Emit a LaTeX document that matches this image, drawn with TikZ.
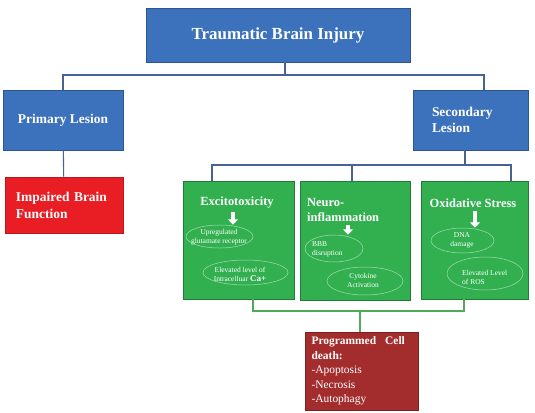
\documentclass[tikz,border=0pt]{standalone}
\usepackage{fontspec}
\setmainfont{Liberation Serif}
\usepackage{tikz}
\usetikzlibrary{shapes.geometric}
\usetikzlibrary{arrows.meta}

\definecolor{tbiblue}{RGB}{60,114,188}
\definecolor{lesred}{RGB}{232,30,36}
\definecolor{stressgreen}{RGB}{50,176,80}
\definecolor{deathred}{RGB}{163,45,45}
\definecolor{linkblue}{RGB}{70,100,145}
\definecolor{linkgreen}{RGB}{80,170,90}

\begin{document}
\begin{tikzpicture}[
    x=1bp, y=-1bp,
    blue box/.style={rectangle, fill=tbiblue, draw=tbiblue!75!black, line width=0.8bp, text=white, inner sep=0pt},
    red box/.style={rectangle, fill=lesred, draw=lesred!80!black, line width=0.6bp, text=white, inner sep=0pt},
    green box/.style={rectangle, fill=stressgreen, draw=stressgreen!70!black, line width=0.6bp, inner sep=0pt},
    death box/.style={rectangle, fill=deathred, draw=deathred!75!black, line width=0.6bp, text=white, inner sep=0pt},
    title text/.style={text=white, font=\bfseries\fontsize{12.5}{14.5}\selectfont, inner sep=0pt},
    elli/.style={ellipse, draw=white!55!stressgreen, line width=0.5bp, inner sep=0pt},
    elli text/.style={text=white, font=\fontsize{7.5}{9}\selectfont, inner sep=0pt},
    down arrow/.style={draw=white, line width=4bp, -{Triangle[width=10bp,length=5.5bp]}},
    link/.style={draw=linkblue, line width=1.1bp},
    green link/.style={draw=linkgreen, line width=1.1bp},
    ]
  \useasboundingbox (0,0) rectangle (535,412);

  % boxes
  \node[blue box, minimum width=264bp, minimum height=54bp, font=\bfseries\fontsize{17}{20}\selectfont] (tbi) at (278,35) {Traumatic Brain Injury};
  \node[blue box, minimum width=120bp, minimum height=60bp, font=\bfseries\fontsize{13.5}{16}\selectfont] (pl) at (63,120) {Primary Lesion};
  \node[blue box, minimum width=115bp, minimum height=60bp, text width=77bp, align=left, font=\bfseries\fontsize{13.5}{16}\selectfont] (sl) at (470.5,120) {Secondary\\Lesion};
  \node[red box, minimum width=118bp, minimum height=56bp, text width=96bp, align=left, font=\bfseries\fontsize{13.5}{17}\selectfont] (ibf) at (64,205) {Impaired Brain\\Function};

  \node[green box, minimum width=111bp, minimum height=118bp] (exc) at (238.5,240) {};
  \node[green box, minimum width=110bp, minimum height=119bp] (neu) at (355,240.5) {};
  \node[green box, minimum width=107bp, minimum height=118bp] (oxi) at (474.5,240) {};

  \node[death box, minimum width=113bp, minimum height=78bp, text width=101bp, align=left, font=\fontsize{11.5}{14.5}\selectfont] (pcd) at (362,371)
    {\textbf{Programmed\hspace{9bp}Cell}\\\textbf{death:}\\-Apoptosis\\-Necrosis\\-Autophagy};

  % titles inside the green boxes
  \node[title text] (exc title) at (237,203) {Excitotoxicity};
  \node[title text, anchor=west, align=left] (neu title) at (307,210) {Neuro-\\inflammation};
  \node[title text] (oxi title) at (473,203) {Oxidative Stress};

  % ellipses
  \node[elli, minimum width=67bp, minimum height=23bp] (e11) at (219.5,236.5) {};
  \node[elli, minimum width=85bp, minimum height=25bp] (e12) at (245.5,272.5) {};
  \node[elli, minimum width=58bp, minimum height=27bp] (e21) at (334,248.5) {};
  \node[elli, minimum width=76bp, minimum height=28bp] (e22) at (365,281) {};
  \node[elli, minimum width=63bp, minimum height=25bp] (e31) at (462.5,240.5) {};
  \node[elli, minimum width=76bp, minimum height=33bp] (e32) at (485,273.5) {};

  \node[elli text, align=center] (t11) at (219,237.5) {Upregulated\\glutamate receptor};
  \node[elli text, align=center] (t12) at (240,274.5) {Elevated level of\\Intracelluar \textbf{\fontsize{9}{9}\selectfont Ca+}};
  \node[elli text, align=left, anchor=west] (t21) at (312,249) {BBB\\disruption};
  \node[elli text, align=center] (t22) at (363,280.5) {Cytokine\\Activation};
  \node[elli text, align=center] (t31) at (462,240.5) {DNA\\damage};
  \node[elli text, align=left, anchor=west] (t32) at (462,277) {Elevated Level\\of ROS};

  % white arrows
  \draw[down arrow] (233,212) -- (e11.north -| 233,0);
  \draw[down arrow] (348,225) -- (e21.north -| 348,0);
  \draw[down arrow] (475,211) -- (e31.north -| 475,0);

  % connectors
  \coordinate (top fork) at (285,75);
  \coordinate (sec fork) at (465,165);
  \coordinate (low fork) at (360,311);

  \draw[link] (tbi.south -| top fork) -- (top fork);
  \draw[link] (pl.north) |- (top fork);
  \draw[link] (top fork) -| ([xshift=13.5bp]sl.north);
  \draw[link] (pl) -- (ibf);

  \draw[link] (sl.south -| sec fork) -- (sec fork);
  \draw[link] (sec fork) -| ([xshift=-26.5bp]exc.north);
  \draw[link] (sec fork) -| ([xshift=36.5bp]oxi.north);
  \draw[link] ([xshift=-3bp]neu.north) -- ([xshift=-3bp]neu.north |- sec fork);

  \draw[green link] ([xshift=14.5bp]exc.south) |- (low fork);
  \draw[green link] ([xshift=-10.5bp]oxi.south) |- (low fork);
  \draw[green link] (low fork) -- (pcd.north -| low fork);
\end{tikzpicture}
\end{document}
